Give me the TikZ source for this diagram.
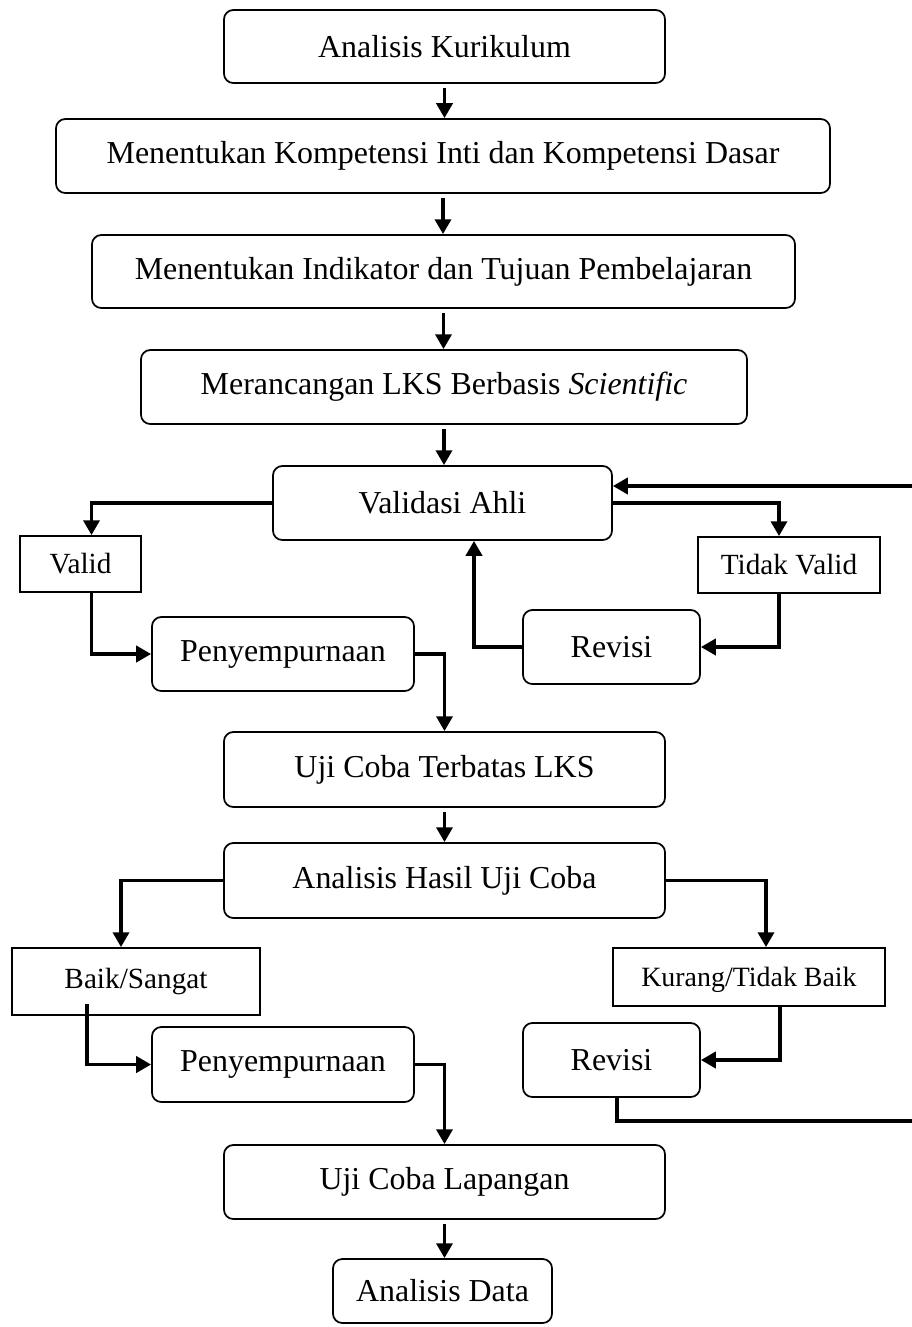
\documentclass[tikz,border=0pt]{standalone}
\usepackage{fontspec}
\setmainfont{Liberation Serif}
\usepackage{tikz}
\usetikzlibrary{arrows.meta}

\newcommand{\px}{0.01322cm}

\begin{document}
\begin{tikzpicture}[x=0.01322cm, y=-0.01322cm,
  box/.style={draw, line width=0.65pt, rounded corners=3.5pt, inner sep=0pt, align=center, font=\fontsize{12}{14}\selectfont},
  tag/.style={draw, line width=0.65pt, inner sep=0pt, align=center, font=\fontsize{11}{13}\selectfont},
  conn/.style={line width=1.4pt, -{Triangle[length=5.6pt, width=6pt]}},
  link/.style={line width=1.4pt}]
\useasboundingbox (0,0) rectangle (912,1327);
% main column
\node[box, minimum width=441*\px, minimum height=73*\px] (kur) at (444.5,46.5) {Analisis Kurikulum};
\node[box, minimum width=774*\px, minimum height=74*\px] (kikd) at (443,156) {Menentukan Kompetensi Inti dan Kompetensi Dasar};
\node[box, minimum width=703*\px, minimum height=73*\px] (ind) at (443.5,271.5) {Menentukan Indikator dan Tujuan Pembelajaran};
\node[box, minimum width=606*\px, minimum height=74*\px] (lks) at (444,387) {Merancangan LKS Berbasis \textit{Scientific}};
\node[box, minimum width=339*\px, minimum height=74*\px] (val) at (442.5,503) {Validasi Ahli};
\node[tag, minimum width=121*\px, minimum height=56*\px] (valid) at (80.5,564) {Valid};
\node[tag, minimum width=182*\px, minimum height=56*\px] (tdk) at (789,565) {Tidak Valid};
\node[box, minimum width=262*\px, minimum height=74*\px] (pen1) at (283,654) {Penyempurnaan};
\node[box, minimum width=177*\px, minimum height=74*\px] (rev1) at (611.5,647) {Revisi};
\node[box, minimum width=441*\px, minimum height=75*\px] (uji1) at (444.5,769.5) {Uji Coba Terbatas LKS};
\node[box, minimum width=441*\px, minimum height=75*\px] (hasil) at (444.5,880.5) {Analisis Hasil Uji Coba};
\node[tag, minimum width=248*\px, minimum height=67*\px] (baik) at (136,981.5) {Baik/Sangat};
\node[tag, minimum width=272*\px, minimum height=58*\px, font=\fontsize{10.5}{12}\selectfont, text depth=-2pt] (kurang) at (749,977) {Kurang/Tidak Baik};
\node[box, minimum width=262*\px, minimum height=75*\px] (pen2) at (283,1064.5) {Penyempurnaan};
\node[box, minimum width=177*\px, minimum height=74*\px] (rev2) at (611.5,1060) {Revisi};
\node[box, minimum width=441*\px, minimum height=74*\px] (uji2) at (444.5,1182) {Uji Coba Lapangan};
\node[box, minimum width=219*\px, minimum height=64*\px] (data) at (442.5,1291) {Analisis Data};
% free ends at the right edge
\coordinate (back) at (912,486);
\coordinate (away) at (912,1121);

\foreach \a/\b in {kur/kikd, kikd/ind, ind/lks, lks/val, uji1/hasil, uji2/data}
  \draw[conn, shorten <=1.5pt] (\a.south) -- (\a.south |- \b.north);
\draw[conn] (val.west) -| ([xshift=11*\px]valid.north);
\draw[conn] (val.east) -| ([xshift=-10*\px]tdk.north);
\draw[conn] ([xshift=11*\px]valid.south) |- (pen1.west);
\draw[conn] (pen1.east) -| (uji1.north);
\draw[conn] ([xshift=-10*\px]tdk.south) |- (rev1.east);
\draw[conn] (rev1.west) -| ([xshift=31.5*\px]val.south);
\draw[conn] (back) -- (back -| val.east);
\draw[conn] (hasil.west) -| ([xshift=-15*\px]baik.north);
\draw[conn] (hasil.east) -| ([xshift=17*\px]kurang.north);
\draw[conn] ([xshift=-49*\px, yshift=12*\px]baik.south) |- (pen2.west);
\draw[conn] (pen2.east) -| (uji2.north);
\draw[conn] ([xshift=31*\px]kurang.south) |- (rev2.east);
\draw[link] ([xshift=5.5*\px]rev2.south) |- (away);
\end{tikzpicture}
\end{document}
